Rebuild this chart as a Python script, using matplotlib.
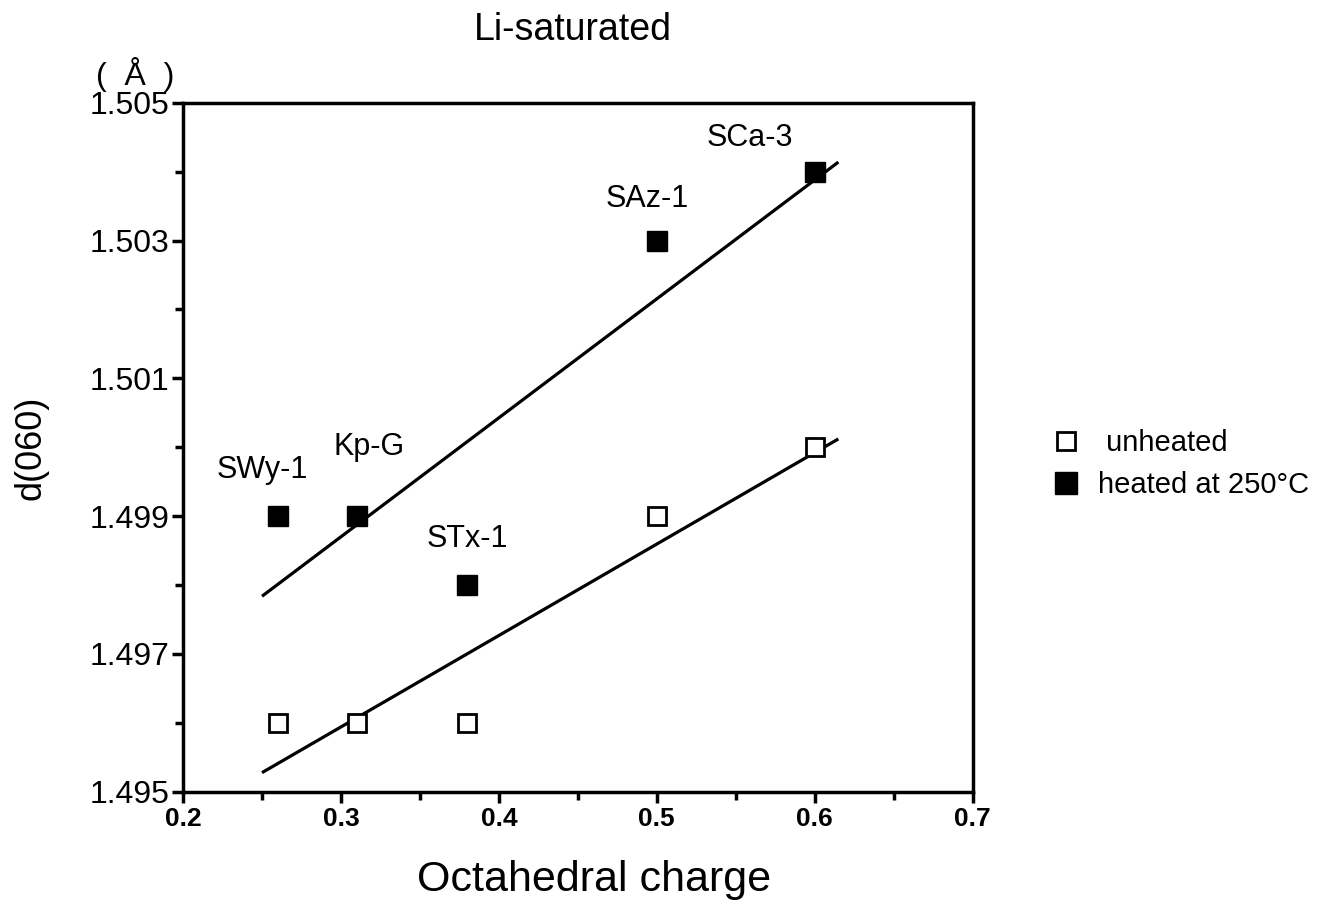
import numpy as np
import matplotlib
matplotlib.use("Agg")
import matplotlib.pyplot as plt
from matplotlib.ticker import MultipleLocator

plt.rcParams['font.family'] = ['Liberation Sans', 'DejaVu Sans']

charge = [0.26, 0.31, 0.38, 0.50, 0.60]
samples = ['SWy-1', 'Kp-G', 'STx-1', 'SAz-1', 'SCa-3']
d_unheated = [1.496, 1.496, 1.496, 1.499, 1.500]
d_heated = [1.499, 1.499, 1.498, 1.503, 1.504]
# label offsets (points) from the heated points
label_offsets = [(-11, 33), (9, 50), (0, 33), (-7, 30), (-47, 24)]

fig = plt.figure(figsize=(13.36, 9.10), dpi=100)
ax = fig.add_axes([0.137, 0.130, 0.591, 0.757])

# fitted lines
xfit = np.array([0.25, 0.615])
for d in (d_heated, d_unheated):
    k, b = np.polyfit(charge, d, 1)
    ax.plot(xfit, k * xfit + b, color='black', lw=2.3, solid_capstyle='butt')

ax.plot(charge, d_unheated, 's', ms=13, mfc='white', mec='black', mew=2,
        ls='none', label=' unheated')
ax.plot(charge, d_heated, 's', ms=14.5, mfc='black', mec='black',
        ls='none', label='heated at 250°C')

for x, y, name, off in zip(charge, d_heated, samples, label_offsets):
    ax.annotate(name, (x, y), xytext=off, textcoords='offset points',
                ha='center', va='center', fontsize=22)

ax.set_xlim(0.2, 0.7)
ax.set_ylim(1.495, 1.505)
ax.xaxis.set_major_locator(MultipleLocator(0.1))
ax.xaxis.set_minor_locator(MultipleLocator(0.05))
ax.yaxis.set_major_locator(MultipleLocator(0.002))
ax.yaxis.set_minor_locator(MultipleLocator(0.001))
ax.set_yticks([1.495, 1.497, 1.499, 1.501, 1.503, 1.505])
ax.xaxis.set_major_formatter(plt.FuncFormatter(lambda v, p: '%.1f' % v))
ax.yaxis.set_major_formatter(plt.FuncFormatter(lambda v, p: '%.3f' % v))
ax.tick_params(axis='both', which='major', direction='out', length=8, width=2.5)
ax.tick_params(axis='both', which='minor', direction='out', length=6, width=2.5)
ax.tick_params(axis='y', labelsize=23, pad=2)
ax.tick_params(axis='x', labelsize=19, pad=3)
for lab in ax.get_xticklabels():
    lab.set_fontweight('bold')
for s in ax.spines.values():
    s.set_linewidth(2.5)

fig.text(0.4446, 0.033, 'Octahedral charge', fontsize=31, ha='center', va='center')
fig.text(0.023, 0.508, 'd(060)', fontsize=26, ha='center', va='center', rotation=90)
fig.text(0.429, 0.967, 'Li-saturated', fontsize=27, ha='center', va='center')
fig.text(0.101, 0.918, '(  Å  )', fontsize=23, ha='center', va='center')

fig.legend(loc='center left', bbox_to_anchor=(0.778, 0.49), frameon=False,
           fontsize=21, handletextpad=0.6, handlelength=1.0, labelspacing=0.5,
           borderaxespad=0, markerscale=1.05)

fig.savefig('out.png', dpi=100)
